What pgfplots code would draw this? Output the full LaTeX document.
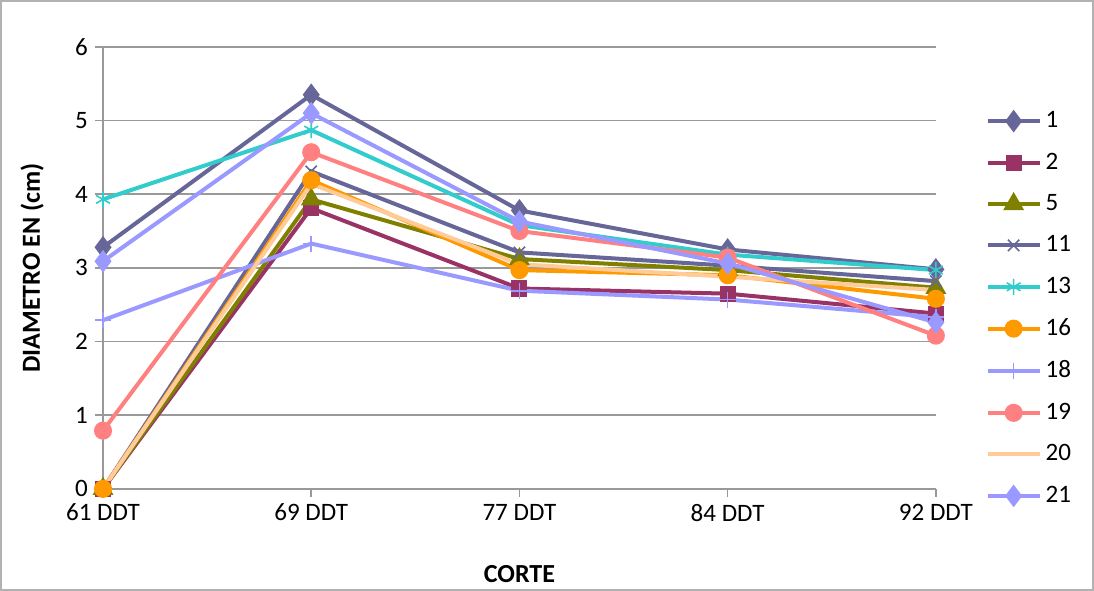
\documentclass[border=0pt]{standalone}
\usepackage{pgfplots}
\pgfplotsset{compat=1.18}
\usepackage{fontspec}
\setmainfont{Carlito}
\definecolor{cA}{HTML}{666699}
\definecolor{cB}{HTML}{993366}
\definecolor{cC}{HTML}{808000}
\definecolor{cD}{HTML}{666699}
\definecolor{cE}{HTML}{33CCCC}
\definecolor{cF}{HTML}{FF9900}
\definecolor{cG}{HTML}{9999FF}
\definecolor{cH}{HTML}{FF8080}
\definecolor{cI}{HTML}{FFCC99}
\definecolor{cJ}{HTML}{9999FF}
\begin{document}
\begin{tikzpicture}
\begin{axis}[
  name=ax,
  scale only axis,
  width=415.5pt, height=220.5pt,
  xmin=0, xmax=4, ymin=0, ymax=6,
  xtick={0,1,2,3,4},
  xticklabels={61 DDT,69 DDT,77 DDT,84 DDT,92 DDT},
  ytick={0,1,2,3,4,5,6},
  axis x line=bottom, axis y line=left,
  axis line style={draw=gray!80, -, line width=0.8pt},
  tick style={draw=gray!80, line width=0.8pt},
  tick align=outside,
  major tick length=4pt,
  ymajorgrids, grid style={gray!80, line width=0.8pt},
  tick label style={font=\fontsize{12.5}{14}\selectfont},
  /pgf/number format/assume math mode=true,
  xlabel={\textbf{CORTE}},
  ylabel={\textbf{DIAMETRO EN (cm)}},
  label style={font=\fontsize{13}{15}\selectfont},
  xlabel style={at={(axis description cs:0.5,0)}, anchor=north, yshift=-34.5pt},
  ylabel style={at={(axis description cs:0,0.5)}, anchor=south, yshift=26pt},
  legend style={at={(axis description cs:1.052,0.408)}, anchor=west, draw=none,
    font=\fontsize{12.5}{14}\selectfont, row sep=7.1pt, fill=none},
  legend cell align=left,
  legend image code/.code={\draw[mark repeat=2,mark phase=2] plot coordinates {(0pt,0pt)(13pt,0pt)(26pt,0pt)};},
  every axis plot/.append style={line width=2pt, mark size=3pt},
  clip=false,
]
\addplot[cA, mark=diamond*, mark size=4pt] coordinates {(0,3.28)(1,5.35)(2,3.78)(3,3.25)(4,2.98)};
\addlegendentry{1}
\addplot[cB, mark=square*, mark size=3pt] coordinates {(0,0)(1,3.81)(2,2.72)(3,2.65)(4,2.38)};
\addlegendentry{2}
\addplot[cC, mark=triangle*, mark size=4pt] coordinates {(0,0)(1,3.93)(2,3.12)(3,2.97)(4,2.73)};
\addlegendentry{5}
\addplot[cD, mark=x, mark size=4pt, mark options={line width=0.8pt}] coordinates {(0,0)(1,4.31)(2,3.21)(3,3.03)(4,2.82)};
\addlegendentry{11}
\addplot[cE, mark=asterisk, mark size=4pt, mark options={line width=0.8pt}] coordinates {(0,3.93)(1,4.87)(2,3.58)(3,3.18)(4,2.97)};
\addlegendentry{13}
\addplot[cF, mark=*, mark size=3.5pt] coordinates {(0,0)(1,4.19)(2,2.97)(3,2.90)(4,2.58)};
\addlegendentry{16}
\addplot[cG, mark=+, mark size=4pt, mark options={line width=0.8pt}] coordinates {(0,2.29)(1,3.33)(2,2.69)(3,2.57)(4,2.33)};
\addlegendentry{18}
\addplot[cH, mark=*, mark size=3.5pt] coordinates {(0,0.79)(1,4.57)(2,3.50)(3,3.14)(4,2.08)};
\addlegendentry{19}
\addplot[cI, no markers] coordinates {(0,0)(1,4.14)(2,3.05)(3,2.88)(4,2.70)};
\addlegendentry{20}
\addplot[cJ, mark=diamond*, mark size=4pt] coordinates {(0,3.09)(1,5.10)(2,3.63)(3,3.06)(4,2.26)};
\addlegendentry{21}
\end{axis}
\draw[gray!60, line width=0.8pt] ([xshift=-51pt,yshift=-50.5pt]ax.south west) rectangle ([xshift=78.5pt,yshift=23pt]ax.north east);
\end{tikzpicture}
\end{document}
